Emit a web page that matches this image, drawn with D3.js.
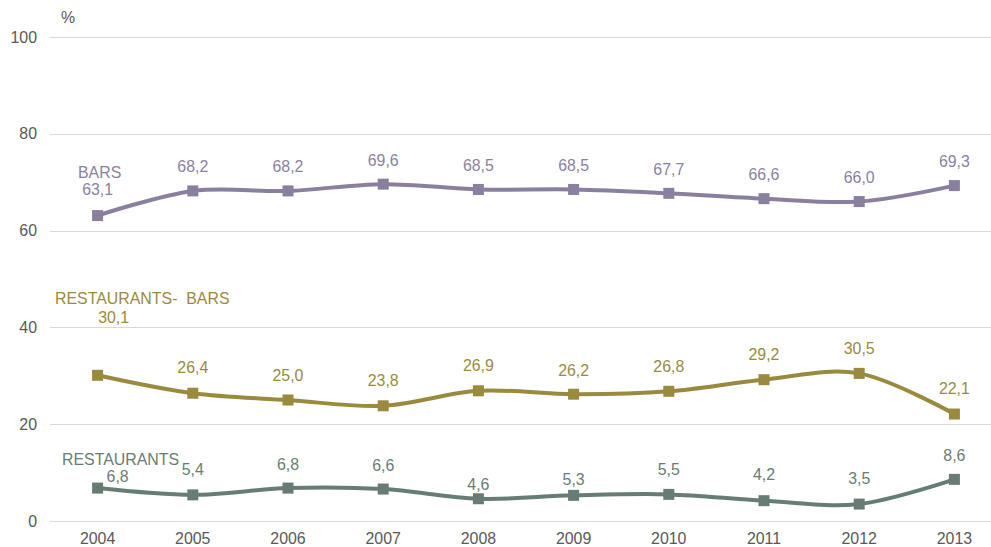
<!DOCTYPE html>
<html>
<head>
<meta charset="utf-8">
<script src="https://cdn.jsdelivr.net/npm/d3@7"></script>
<style>
  html, body { margin: 0; padding: 0; background: #ffffff; }
  svg { display: block; font-family: "Liberation Sans", Arial, sans-serif; }
</style>
</head>
<body>
<svg id="chart" width="991" height="547"></svg>
<script>
// ---- data ----
const years = ["2004","2005","2006","2007","2008","2009","2010","2011","2012","2013"];
const barsValues = [63.1, 68.2, 68.2, 69.6, 68.5, 68.5, 67.7, 66.6, 66.0, 69.3];
const restBarsValues = [30.1, 26.4, 25.0, 23.8, 26.9, 26.2, 26.8, 29.2, 30.5, 22.1];
const restaurantsValues = [6.8, 5.4, 6.8, 6.6, 4.6, 5.3, 5.5, 4.2, 3.5, 8.6];
const yTicks = [0, 20, 40, 60, 80, 100];
const seriesNames = ["BARS", "RESTAURANTS-  BARS", "RESTAURANTS"];

// ---- layout / style ----
const colors = ["#8b7f9f", "#9a8a3e", "#677d74"];
const fontSize = "15.9px";
const svg = d3.select("#chart");
const x = d3.scaleBand().domain(years).range([50, 1002]);
const cx = d => x(d) + x.bandwidth() / 2;
const y = d3.scaleLinear().domain([0, 100]).range([521, 37]);

// gridlines
svg.append("g").selectAll("line").data(yTicks).join("line")
  .attr("x1", 50).attr("x2", 991)
  .attr("y1", d => Math.round(y(d)) + 0.5).attr("y2", d => Math.round(y(d)) + 0.5)
  .attr("stroke", "#d9d9d9").attr("stroke-width", 1);

// y tick labels
svg.append("g").selectAll("text").data(yTicks).join("text")
  .attr("x", 37).attr("y", d => y(d)).attr("dy", "0.35em")
  .attr("text-anchor", "end").attr("fill", "#595959").style("font-size", fontSize)
  .text(d => d);

svg.append("text").attr("x", 68).attr("y", 17).attr("dy", "0.35em")
  .attr("text-anchor", "middle").attr("fill", "#595959").style("font-size", fontSize)
  .text("%");

// x labels
svg.append("g").selectAll("text").data(years).join("text")
  .attr("x", d => cx(d)).attr("y", 538.5).attr("dy", "0.35em")
  .attr("text-anchor", "middle").attr("fill", "#595959").style("font-size", fontSize)
  .text(d => d);

// series
const series = [barsValues, restBarsValues, restaurantsValues];
// label offsets (layout): [dx, dy] per point relative to marker
const labelOffsets = [
  [[0,-26],[0,-24],[0,-24],[0,-24],[0,-24],[0,-24],[0,-24],[0,-24],[0,-24],[0,-24]],
  [[16,-58],[0,-26],[0,-25],[0,-25],[0,-25],[0,-24],[0,-25],[0,-25],[0,-25],[0,-26]],
  [[20,-12],[0,-25],[0,-24],[0,-24],[0,-14],[0,-16],[0,-25],[0,-26],[0,-26],[0,-24]]
];
const nameLabels = [[78, 172], [55, 298], [62, 459]];

const line = d3.line()
  .x((d, i) => cx(years[i]))
  .y(d => y(d))
  .curve(d3.curveCardinal.tension(0));

series.forEach((vals, s) => {
  const g = svg.append("g");
  g.append("path").datum(vals)
    .attr("d", line)
    .attr("fill", "none")
    .attr("stroke", colors[s])
    .attr("stroke-width", 4)
    .attr("stroke-linejoin", "round");
  g.selectAll("rect").data(vals).join("rect")
    .attr("x", (d, i) => cx(years[i]) - 5.5)
    .attr("y", d => y(d) - 5.5)
    .attr("width", 11).attr("height", 11)
    .attr("fill", colors[s]);
  g.selectAll("text.val").data(vals).join("text")
    .attr("class", "val")
    .attr("x", (d, i) => cx(years[i]) + labelOffsets[s][i][0])
    .attr("y", (d, i) => y(d) + labelOffsets[s][i][1])
    .attr("dy", "0.35em")
    .attr("text-anchor", "middle")
    .attr("fill", colors[s]).style("font-size", fontSize)
    .text(d => d.toFixed(1).replace(".", ","));
  g.append("text")
    .attr("x", nameLabels[s][0]).attr("y", nameLabels[s][1]).attr("dy", "0.35em")
    .attr("fill", colors[s]).style("font-size", fontSize)
    .attr("xml:space", "preserve").style("white-space", "pre")
    .text(seriesNames[s]);
});
</script>
</body>
</html>
